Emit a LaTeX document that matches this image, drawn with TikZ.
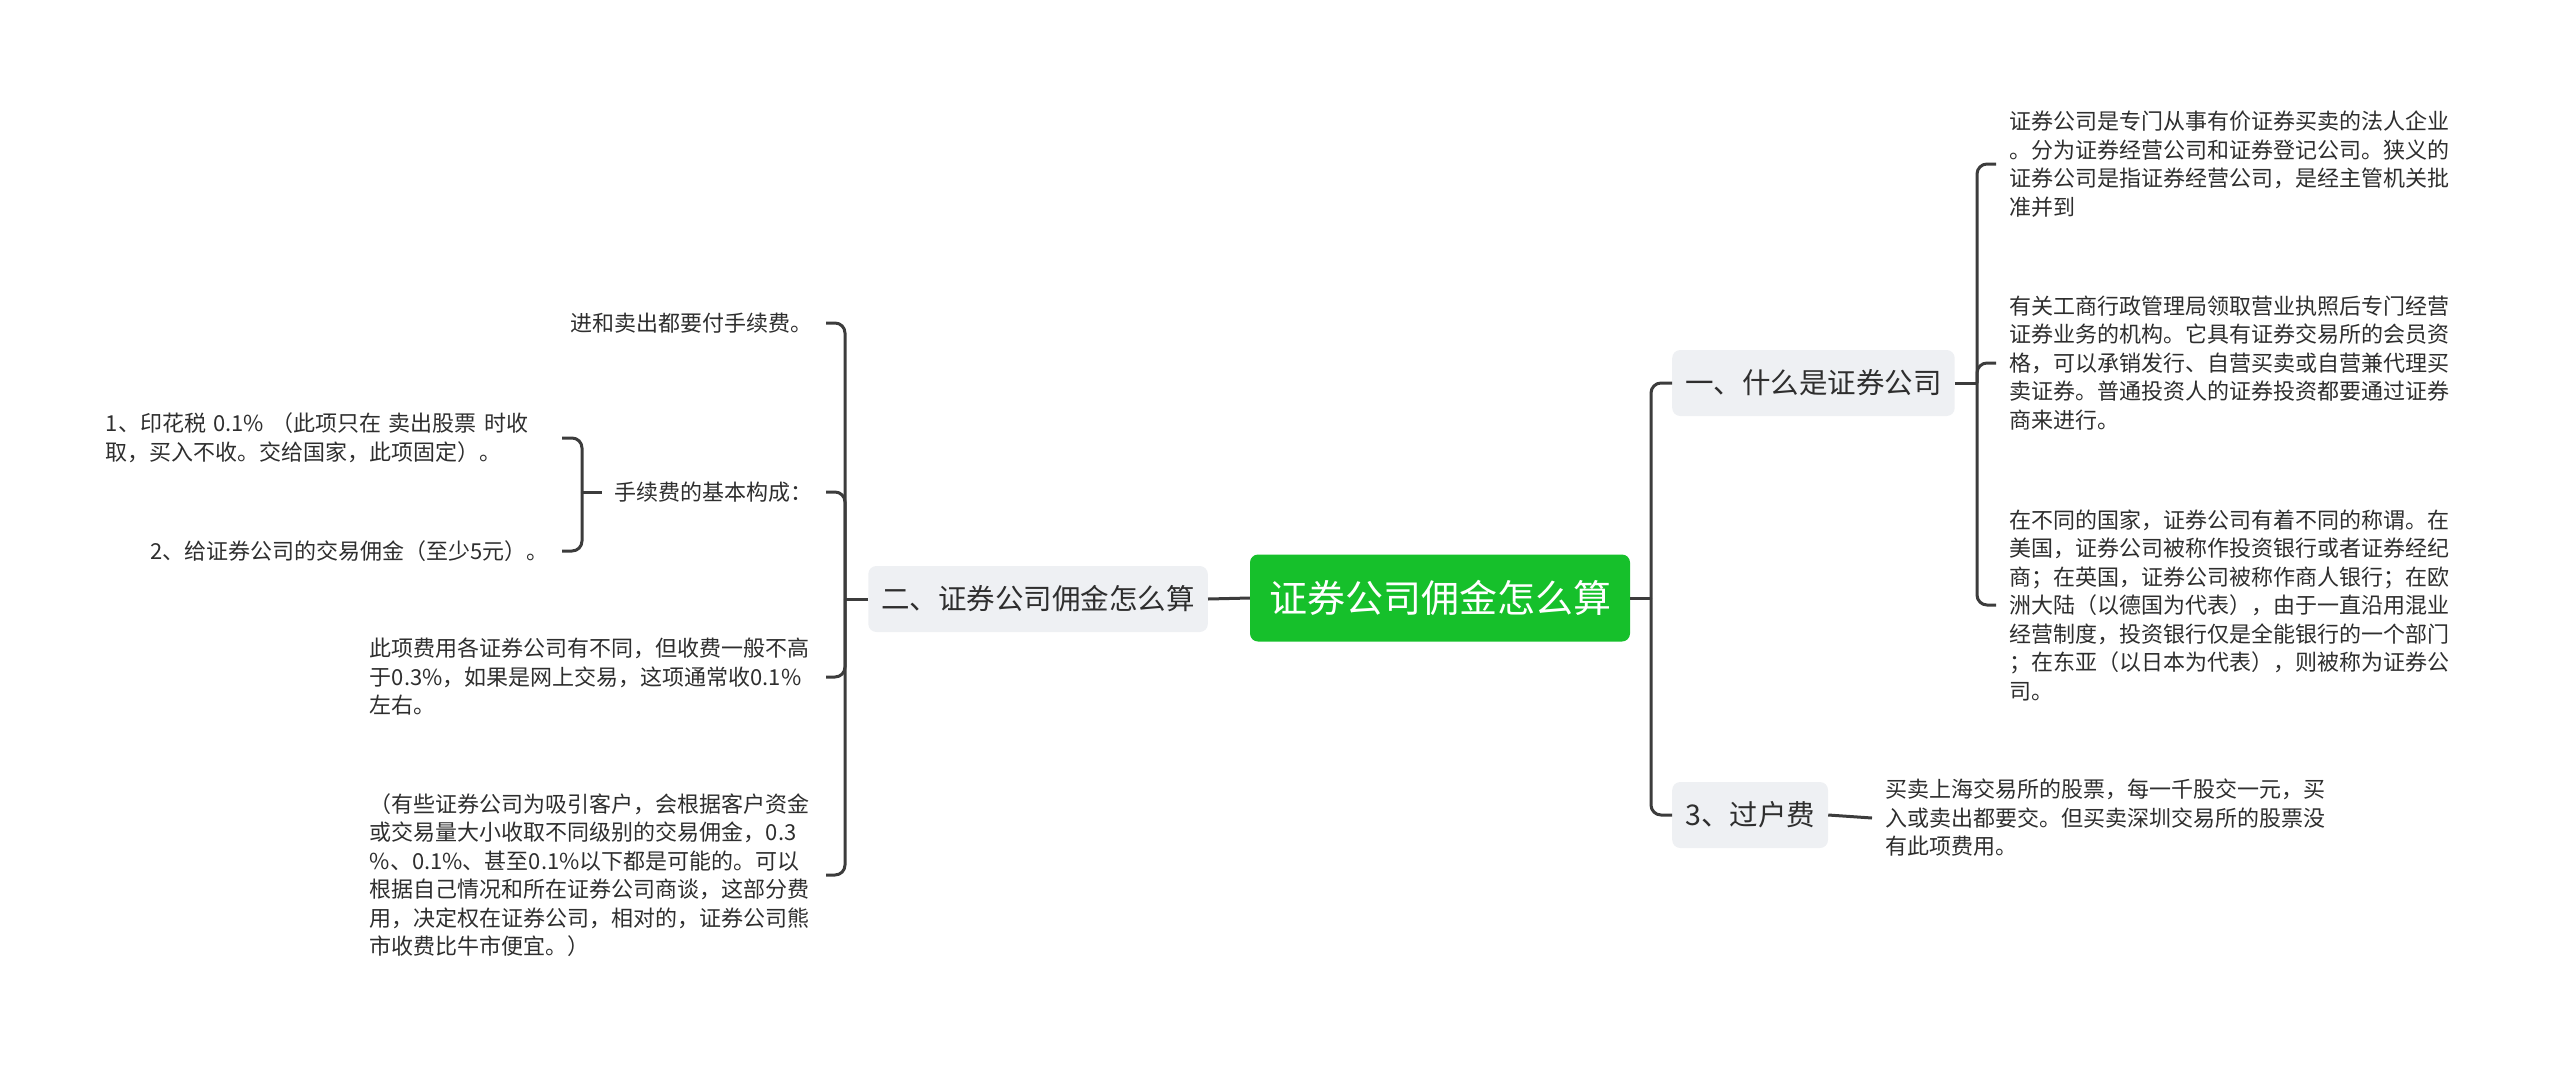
\documentclass[tikz,border=0pt]{standalone}
\usepackage{fontspec}
\newfontfamily\cjk{Noto Sans CJK SC}
\definecolor{linegray}{HTML}{3C3C3C}
\definecolor{boxgray}{HTML}{EEF0F3}
\definecolor{rootgreen}{HTML}{16C02B}
\definecolor{inkgray}{HTML}{2E2E2E}
\tikzset{
  link/.style={draw=linegray,line width=3pt,rounded corners=10pt},
  rootbox/.style={fill=rootgreen,rounded corners=8pt,text=white,inner sep=0pt,
    font=\cjk\fontsize{38}{44}\selectfont,minimum width=380pt,minimum height=87pt},
  topic/.style={fill=boxgray,rounded corners=8pt,text=inkgray,inner xsep=13pt,
    font=\cjk\fontsize{28.5}{34}\selectfont,minimum height=66pt},
  leaf/.style={text=inkgray,inner xsep=13pt,inner ysep=2pt,
    font=\cjk\fontsize{22}{28.5}\selectfont},
  wideleaf/.style={leaf,text width=443pt,align=left}
}
\begin{document}
\begin{tikzpicture}[x=1pt,y=-1pt]
  \useasboundingbox (0,0) rectangle (2560,1066);

  % main topics
  \node[rootbox] (root) at (1440,598) {证券公司佣金怎么算};
  \node[topic,anchor=west] (what) at (1672,383) {一、什么是证券公司};
  \node[topic,anchor=west] (fee) at (1672,815) {3、过户费};
  \node[topic,anchor=east] (calc) at (1208,599) {二、证券公司佣金怎么算};

  % right side
  \node[wideleaf,anchor=west] (def) at (1996,164) {证券公司是专门从事有价证券买卖的法人企业\\。分为证券经营公司和证券登记公司。狭义的\\证券公司是指证券经营公司，是经主管机关批\\准并到};
  \node[wideleaf,anchor=west] (biz) at (1996,363) {有关工商行政管理局领取营业执照后专门经营\\证券业务的机构。它具有证券交易所的会员资\\格，可以承销发行、自营买卖或自营兼代理买\\卖证券。普通投资人的证券投资都要通过证券\\商来进行。};
  \node[wideleaf,anchor=west] (names) at (1996,605) {在不同的国家，证券公司有着不同的称谓。在\\美国，证券公司被称作投资银行或者证券经纪\\商；在英国，证券公司被称作商人银行；在欧\\洲大陆（以德国为代表），由于一直沿用混业\\经营制度，投资银行仅是全能银行的一个部门\\；在东亚（以日本为代表），则被称为证券公\\司。};
  \node[wideleaf,anchor=west] (transfer) at (1872,818) {买卖上海交易所的股票，每一千股交一元，买\\入或卖出都要交。但买卖深圳交易所的股票没\\有此项费用。};

  % left side
  \node[leaf,anchor=east] (both) at (826,323) {进和卖出都要付手续费。};
  \node[leaf,anchor=east] (parts) at (826,492) {手续费的基本构成：};
  \node[wideleaf,anchor=east] (range) at (826,677) {此项费用各证券公司有不同，但收费一般不高\\于0.3\%，如果是网上交易，这项通常收0.1\%\\左右。};
  \node[wideleaf,anchor=east] (note) at (826,875) {（有些证券公司为吸引客户，会根据客户资金\\或交易量大小收取不同级别的交易佣金，0.3\\\%、0.1\%、甚至0.1\%以下都是可能的。可以\\根据自己情况和所在证券公司商谈，这部分费\\用，决定权在证券公司，相对的，证券公司熊\\市收费比牛市便宜。）};
  \node[wideleaf,anchor=east] (stamp) at (562,438) {1、印花税 0.1\% （此项只在 卖出股票 时收\\取，买入不收。交给国家，此项固定）。};
  \node[leaf,anchor=east] (broker) at (562,551) {2、给证券公司的交易佣金（至少5元）。};

  % joints
  \coordinate (rj) at (1651,598);
  \coordinate (wj) at (1977,383);
  \coordinate (cj) at (845,599);
  \coordinate (pj) at (582,492);

  % connectors
  \draw[link] (root.west) -- (calc.east);
  \draw[link] (root.east) -- (rj);
  \draw[link] (rj) |- (what.west);
  \draw[link] (rj) |- (fee.west);
  \draw[link] (what.east) -- (wj);
  \foreach \n in {def,biz,names}
    \draw[link] (wj) |- (\n.west);
  \draw[link] (fee.east) -- (transfer.west);
  \draw[link] (calc.west) -- (cj);
  \foreach \n in {both,parts,range,note}
    \draw[link] (cj) |- (\n.east);
  \draw[link] (parts.west) -- (pj);
  \draw[link] (pj) |- (stamp.east);
  \draw[link] (pj) |- (broker.east);
\end{tikzpicture}
\end{document}
